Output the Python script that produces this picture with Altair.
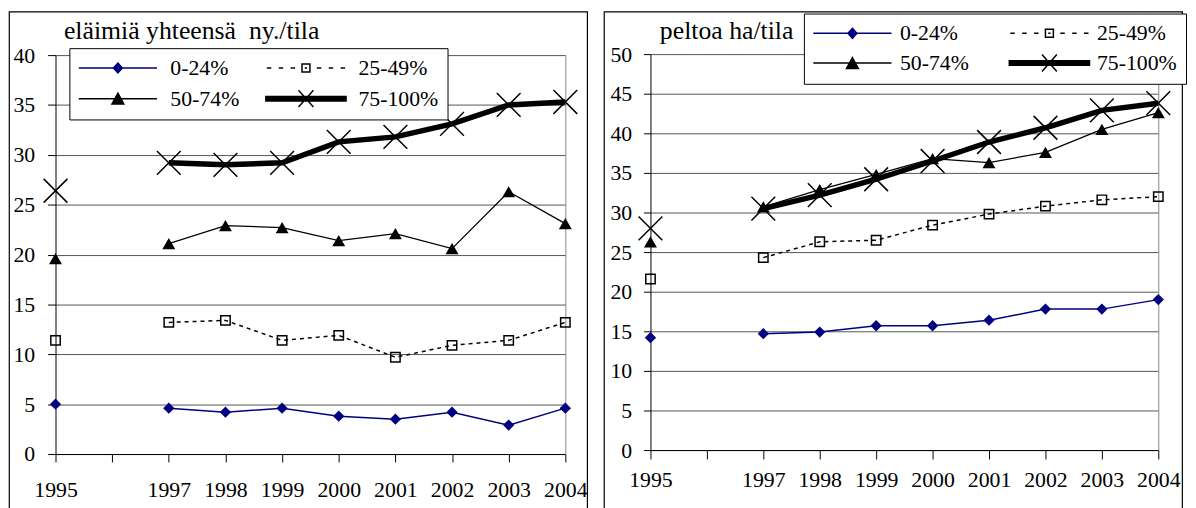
import altair as alt
import pandas as pd

years = ["1995", "1996", "1997", "1998", "1999", "2000", "2001", "2002", "2003", "2004"]
series_names = ["0-24%", "25-49%", "50-74%", "75-100%"]

# eläimiä yhteensä ny./tila
animals_0_24 = [5.0, None, 4.6, 4.2, 4.6, 3.8, 3.5, 4.2, 2.9, 4.6]
animals_25_49 = [11.4, None, 13.2, 13.4, 11.4, 11.9, 9.7, 10.9, 11.4, 13.2]
animals_50_74 = [19.6, None, 21.1, 22.9, 22.7, 21.4, 22.1, 20.6, 26.3, 23.1]
animals_75_100 = [26.4, None, 29.2, 29.0, 29.2, 31.3, 31.8, 33.1, 35.0, 35.3]

# peltoa ha/tila
field_0_24 = [14.2, None, 14.7, 14.9, 15.7, 15.7, 16.4, 17.8, 17.8, 19.0]
field_25_49 = [21.6, None, 24.3, 26.3, 26.5, 28.4, 29.8, 30.8, 31.6, 32.0]
field_50_74 = [26.3, None, 30.7, 32.9, 34.8, 36.8, 36.3, 37.6, 40.5, 42.6]
field_75_100 = [28.0, None, 30.5, 32.2, 34.2, 36.5, 38.9, 40.7, 42.9, 43.8]

FONT = "Liberation Serif"
NAVY = "#000080"
X_PATH = "M-1,-1L1,1M-1,1L1,-1"

line_styles = {
    "0-24%": dict(color=NAVY, strokeWidth=1.5),
    "25-49%": dict(color="black", strokeWidth=1.5, strokeDash=[4, 4]),
    "50-74%": dict(color="black", strokeWidth=1.3),
    "75-100%": dict(color="black", strokeWidth=5.5),
}
point_styles = {
    "0-24%": dict(shape="diamond", filled=True, color=NAVY, size=130, opacity=1),
    "25-49%": dict(shape="square", filled=False, color="black", size=90, strokeWidth=1.5, opacity=1),
    "50-74%": dict(shape="triangle-up", filled=True, color="black", size=170, opacity=1),
    "75-100%": dict(shape=X_PATH, filled=False, color="black", size=576, strokeWidth=1.5, opacity=1),
}
# legend order (Vega fills legend columns first)
legend_order = ["0-24%", "50-74%", "25-49%", "75-100%"]
legend_paths = {
    "0-24%": "M-3.95,0L3.95,0M0,-0.5L0.45,0L0,0.5L-0.45,0Z",
    "25-49%": "M-3.95,0L-3.5,0M-2.75,0L-2.3,0M-1.55,0L-1.1,0M-0.4,-0.4L0.4,-0.4L0.4,0.4L-0.4,0.4Z"
              "M-0.12,0L0.12,0M1.1,0L1.55,0M2.3,0L2.75,0M3.5,0L3.95,0",
    "50-74%": "M-3.95,0L3.95,0M0,-0.55L0.6,0.55L-0.6,0.55Z",
    "75-100%": "M-4.05,-0.23L4.05,-0.23L4.05,0.23L-4.05,0.23Z"
               "M-0.75,-0.85L0.75,0.85M-0.75,0.85L0.75,-0.85",
}
legend_fills = {"0-24%": NAVY, "25-49%": "transparent", "50-74%": "black", "75-100%": "black"}
legend_strokes = {"0-24%": NAVY, "25-49%": "black", "50-74%": "black", "75-100%": "black"}

H = 505


def make_panel(series_values, title_text, ymax, xr, yr, w, x_tick, x_pad, y_tick, y_pad,
               title_x, leg):
    rows = []
    for name, vals in zip(series_names, series_values):
        for yr_, v in zip(years, vals):
            rows.append({"year": yr_, "series": name, "value": v})
    df = pd.DataFrame(rows)
    base = alt.Chart(df)

    xenc = alt.X(
        "year:O",
        scale=alt.Scale(type="point", domain=years, range=xr, padding=0),
        axis=alt.Axis(
            orient="bottom", offset=-(H - yr[0]), tickSize=x_tick, labelPadding=x_pad,
            labelExpr="datum.label == '1996' ? '' : datum.label", labelAngle=0,
            labelOverlap=False, grid=False, domainColor="black", tickColor="black",
            title=None, labelFont=FONT, labelFontSize=22, labelColor="black",
        ),
    )
    yscale = alt.Scale(domain=[0, ymax], range=yr, nice=False, zero=True)
    yaxis = alt.Axis(
        orient="left", offset=-xr[0], values=list(range(0, ymax + 1, 5)), tickSize=y_tick,
        labelPadding=y_pad, grid=True, gridColor="#555555", gridWidth=1, domainColor="black",
        tickColor="black", title=None, labelFont=FONT, labelFontSize=22, labelColor="black",
        labelOverlap=False,
    )
    layers = []
    first = True
    for name in series_names:
        sub = base.transform_filter(alt.datum.series == name)
        ax = yaxis if first else None
        first = False
        layers.append(
            sub.mark_line(invalid="break-paths-show-domains", **line_styles[name]).encode(
                x=xenc, y=alt.Y("value:Q", scale=yscale, axis=ax)
            )
        )
        layers.append(
            sub.mark_point(**point_styles[name]).encode(
                x=xenc, y=alt.Y("value:Q", scale=yscale, axis=None)
            )
        )

    legend = alt.Legend(
        orient="none", legendX=leg["x"], legendY=leg["y"], columns=2, title=None,
        symbolSize=400, symbolStrokeWidth=1.5, symbolOffset=29, symbolOpacity=1,
        labelOffset=leg["labelOffset"],
        labelFont=FONT, labelFontSize=22, labelColor="black", strokeColor="black",
        fillColor="white", padding=9, rowPadding=leg["rowPadding"],
        columnPadding=leg["columnPadding"], symbolLimit=0,
    )
    legend_layer = base.transform_filter("false").mark_point(opacity=1).encode(
        x=xenc,
        y=alt.Y("value:Q", scale=yscale, axis=alt.Axis(
            orient="right", offset=-(w - xr[1]), ticks=False, labels=False, grid=False,
            domainColor="#888888", title=title_text, titleAngle=0, titleX=title_x - xr[1],
            titleY=27, titleAlign="left", titleBaseline="alphabetic", titleFont=FONT,
            titleFontSize=26, titleFontWeight="normal", titleColor="black")),
        shape=alt.Shape("series:N", scale=alt.Scale(
            domain=legend_order, range=[legend_paths[s] for s in legend_order]), legend=legend),
        fill=alt.Fill("series:N", scale=alt.Scale(
            domain=legend_order, range=[legend_fills[s] for s in legend_order]), legend=legend),
        stroke=alt.Stroke("series:N", scale=alt.Scale(
            domain=legend_order, range=[legend_strokes[s] for s in legend_order]), legend=legend),
    )
    layers.append(legend_layer)

    return alt.layer(*layers).resolve_axis(y="independent").properties(width=w, height=H)


left = make_panel(
    [animals_0_24, animals_25_49, animals_50_74, animals_75_100],
    "eläimiä yhteensä\u00a0 ny./tila", 40, [47, 562], [447, 44], 584,
    8, 18, 8, 13, 55,
    dict(x=61, y=37, labelOffset=42, rowPadding=8, columnPadding=23),
)
right = make_panel(
    [field_0_24, field_25_49, field_50_74, field_75_100],
    "peltoa ha/tila", 50, [47, 560], [443, 43], 584,
    9, 11, 7, 12, 56,
    dict(x=202, y=2, labelOffset=37, rowPadding=7, columnPadding=37),
)

chart = (
    alt.hconcat(left, right, spacing=17, bounds="flush")
    .resolve_scale(shape="independent", fill="independent", stroke="independent")
    .resolve_legend(shape="independent", fill="independent", stroke="independent")
    .properties(padding=0, background="white")
    .configure(font=FONT)
    .configure_view(stroke="black", strokeWidth=1.2)
)

chart.save("out.html", embed_options={"renderer": "svg", "actions": False})
